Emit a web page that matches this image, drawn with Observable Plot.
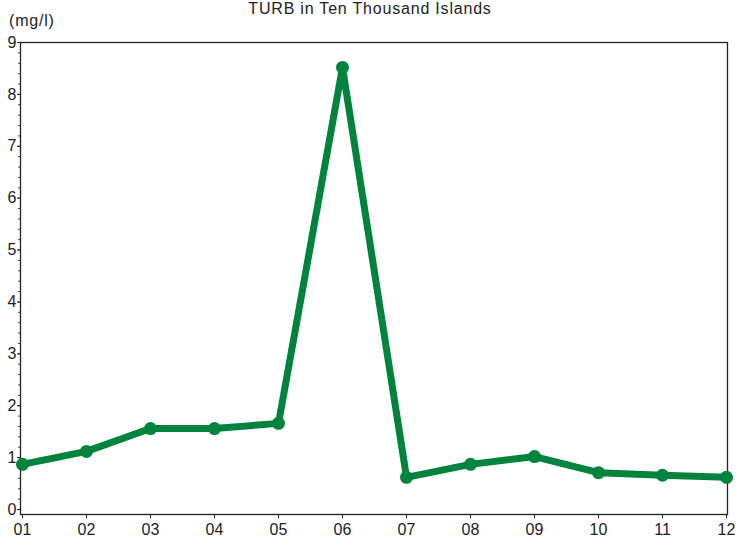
<!DOCTYPE html>
<html>
<head>
<meta charset="utf-8">
<script src="https://cdn.jsdelivr.net/npm/d3@7"></script>
<script src="https://cdn.jsdelivr.net/npm/@observablehq/plot@0.6"></script>
<style>
  html, body { margin: 0; padding: 0; background: #fff; }
  #wrap { position: relative; width: 740px; height: 540px; font-family: "Liberation Sans", Arial, sans-serif; color: #222; }
  #title { position: absolute; top: 0px; left: 0; width: 740px; text-align: center; font-size: 16px; letter-spacing: 0.8px; line-height: 18px; }
  #unit { position: absolute; top: 12px; left: 9px; font-size: 16px; letter-spacing: 0.8px; line-height: 18px; }
  #chart { position: absolute; top: 0; left: 0; }
</style>
</head>
<body>
<div id="wrap">
  <div id="chart"></div>
  <div id="title">TURB in Ten Thousand Islands</div>
  <div id="unit">(mg/l)</div>
</div>
<script>
const months = ["01", "02", "03", "04", "05", "06", "07", "08", "09", "10", "11", "12"];
const turb = [0.87, 1.12, 1.56, 1.56, 1.66, 8.52, 0.62, 0.87, 1.02, 0.71, 0.66, 0.62];
const yTicks = [0, 1, 2, 3, 4, 5, 6, 7, 8, 9];

const data = months.map((m, i) => ({month: m, value: turb[i]}));
const green = "#00843d";

const chart = Plot.plot({
  width: 740,
  height: 540,
  marginLeft: 20,
  marginRight: 13,
  marginTop: 42,
  marginBottom: 26,
  style: {fontFamily: "Liberation Sans, Arial, sans-serif", fontSize: "16px", color: "#222", background: "transparent"},
  x: {type: "point", domain: months, padding: 0},
  y: {domain: [0, 9], insetBottom: 5},
  marks: [
    Plot.frame({stroke: "#222", strokeWidth: 1.3}),
    Plot.axisY(d3.range(0, 9.001, 0.2), {tickSize: 2, text: null, label: null, stroke: "#444"}),
    Plot.axisY(yTicks, {tickSize: 3, tickPadding: 1, label: null, fontSize: 16, tickFormat: d => String(d)}),
    Plot.axisX({tickSize: 4, tickPadding: 5, label: null, fontSize: 16}),
    Plot.line(data, {x: "month", y: "value", stroke: green, strokeWidth: 7, strokeLinejoin: "round"}),
    Plot.dot(data, {x: "month", y: "value", fill: green, r: 6.5})
  ]
});
document.getElementById("chart").appendChild(chart);
</script>
</body>
</html>
